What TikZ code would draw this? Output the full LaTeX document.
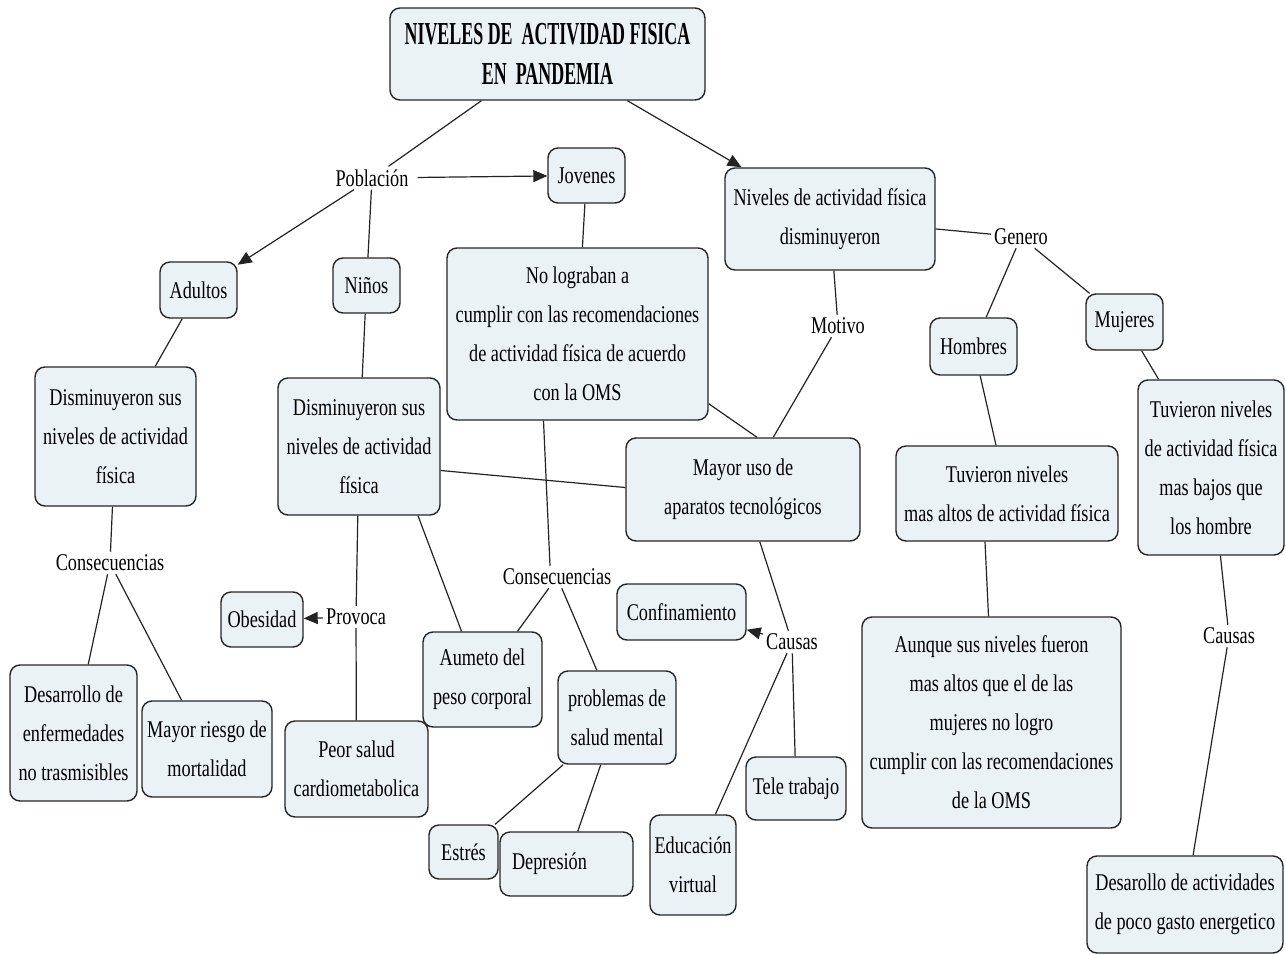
\documentclass[tikz,border=0pt]{standalone}
\usepackage{fontspec}
\setmainfont{Liberation Serif}[FakeStretch=0.76]
\newfontfamily\titlefont{Liberation Serif}[FakeStretch=0.56]
\usetikzlibrary{arrows.meta,calc}
\definecolor{conceptfill}{RGB}{234,242,245}
\definecolor{inkline}{RGB}{35,35,35}
\begin{document}
\begin{tikzpicture}[x=1pt,y=-1pt,
  concept/.style={draw=black!85, line width=1.4pt, fill=conceptfill,
    rounded corners=10pt, align=center, inner sep=0pt,
    font=\fontsize{24}{39}\selectfont},
  wh/.style 2 args={minimum width=#1pt, minimum height=#2pt},
  linkword/.style={inner sep=3pt, font=\fontsize{24}{26}\selectfont},
  link/.style={draw=inkline, line width=1.2pt},
  arrowlink/.style={link, -{Triangle[length=14pt,width=12pt]}},
]
\useasboundingbox (0,0) rectangle (1286,955);

% concepts
\node[concept, wh={315}{92}, font=\titlefont\bfseries\fontsize{32}{40}\selectfont]
  (title) at (547.5,54) {NIVELES DE \ ACTIVIDAD FISICA\\EN \ PANDEMIA};
\node[concept, wh={77}{55}]   (jov)      at (586.5,175.5) {Jovenes};
\node[concept, wh={210}{102}] (niv)      at (830,219) {Niveles de actividad física\\disminuyeron};
\node[concept, wh={77}{56}]   (adultos)  at (198.5,290) {Adultos};
\node[concept, wh={67}{55}]   (ninos)    at (366.5,285.5) {Niños};
\node[concept, wh={261}{172}] (nolog)    at (577.5,334) {No lograban a\\cumplir con las recomendaciones\\de actividad física de acuerdo\\con la OMS};
\node[concept, wh={87}{57}]   (hombres)  at (973.5,346.5) {Hombres};
\node[concept, wh={77}{56}]   (mujeres)  at (1124.5,322) {Mujeres};
\node[concept, wh={161}{139}] (addism)   at (115.5,436.5) {Disminuyeron sus\\niveles de actividad\\física};
\node[concept, wh={162}{137}] (ndism)    at (359,446.5) {Disminuyeron sus\\niveles de actividad\\física};
\node[concept, wh={234}{103}] (mayoruso) at (743,489.5) {Mayor uso de\\aparatos tecnológicos};
\node[concept, wh={222}{95}]  (tuvaltos) at (1007,493.5) {Tuvieron niveles\\mas altos de actividad física};
\node[concept, wh={146}{175}] (tuvbajos) at (1211,467.5) {Tuvieron niveles\\de actividad física\\mas bajos que\\los hombre};
\node[concept, wh={82}{55}]   (obesidad) at (262,619.5) {Obesidad};
\node[concept, wh={129}{56}]  (confin)   at (681.5,612) {Confinamiento};
\node[concept, wh={127}{136}] (desenf)   at (73.5,733) {Desarrollo de\\enfermedades\\no trasmisibles};
\node[concept, wh={130}{96}]  (riesgo)   at (207,749) {Mayor riesgo de\\mortalidad};
\node[concept, wh={143}{96}]  (peor)     at (356.5,769) {Peor salud\\cardiometabolica};
\node[concept, wh={119}{95}]  (aumeto)   at (482.5,679.5) {Aumeto del\\peso corporal};
\node[concept, wh={118}{93}]  (salud)    at (617,717.5) {problemas de\\salud mental};
\node[concept, wh={259}{211}] (aunque)   at (991.5,722.5) {Aunque sus niveles fueron\\mas altos que el de las\\mujeres no logro\\cumplir con las recomendaciones\\de la OMS};
\node[concept, wh={100}{63}]  (tele)     at (796,788.5) {Tele trabajo};
\node[concept, wh={86}{100}]  (educ)     at (693,865) {Educación\\virtual};
\node[concept, wh={69}{54}]   (estres)   at (463.5,852) {Estrés};
\node[concept, wh={133}{64}]  (depre)    at (566.5,864) {Depresión\hspace{34pt}};
\node[concept, wh={196}{97}]  (desact)   at (1185,904.5) {Desarollo de actividades\\de poco gasto energetico};

% linking phrases
\node[linkword] (pob)     at (372,178)  {Población};
\node[linkword] (consl)   at (110,563)  {Consecuencias};
\node[linkword] (provoca) at (356,617)  {Provoca};
\node[linkword] (consm)   at (557,577)  {Consecuencias};
\node[linkword] (motivo)  at (838,326)  {Motivo};
\node[linkword] (genero)  at (1021,237) {Genero};
\node[linkword] (causasm) at (792,642)  {Causas};
\node[linkword] (causasr) at (1229,636) {Causas};

% connectors
\draw[link] (title) -- (pob);
\draw[arrowlink] (pob) -- (adultos);
\draw[arrowlink, shorten <=6pt] (pob) -- (jov);
\draw[link] (pob) -- (ninos);
\draw[arrowlink] (title) -- (niv);
\draw[link] (jov) -- (nolog);
\draw[link] ([xshift=-34pt]nolog.south) -- ([xshift=-7pt]consm.north);
\draw[link] (consm) -- (aumeto);
\draw[link] (consm) -- (salud);
\draw[link] (niv) -- (motivo);
\draw[link] (motivo) -- (mayoruso);
\draw[link] ([yshift=17pt]nolog.south east) -- ([xshift=14pt]mayoruso.north);
\draw[link] ([yshift=-24pt]ndism.east) -- ([yshift=2pt]mayoruso.west);
\draw[link] (niv) -- (genero);
\draw[link] (genero) -- (hombres);
\draw[link] (genero) -- (mujeres);
\draw[link] (hombres) -- (tuvaltos);
\draw[link] ([xshift=-22pt]tuvaltos.south) -- ([xshift=-3pt]aunque.north);
\draw[link] (mujeres) -- (tuvbajos);
\draw[link] (tuvbajos) -- (causasr);
\draw[link] (causasr) -- (desact);
\draw[link] (adultos) -- (addism);
\draw[link] (addism) -- (consl);
\draw[link] (consl) -- (desenf);
\draw[link] (consl) -- (riesgo);
\draw[link] (ninos) -- (ndism);
\draw[link] (ndism) -- (provoca);
\draw[arrowlink] (provoca) -- (obesidad);
\draw[link] (provoca) -- (peor);
\draw[link] ([xshift=59pt]ndism.south) -- ([xshift=-21pt]aumeto.north);
\draw[link] (salud) -- (estres);
\draw[link] (salud) -- (depre);
\draw[link] (mayoruso) -- (causasm);
\draw[arrowlink] (causasm) -- (confin);
\draw[link] (causasm) -- (tele);
\draw[link] (causasm) -- (educ);
\end{tikzpicture}
\end{document}
